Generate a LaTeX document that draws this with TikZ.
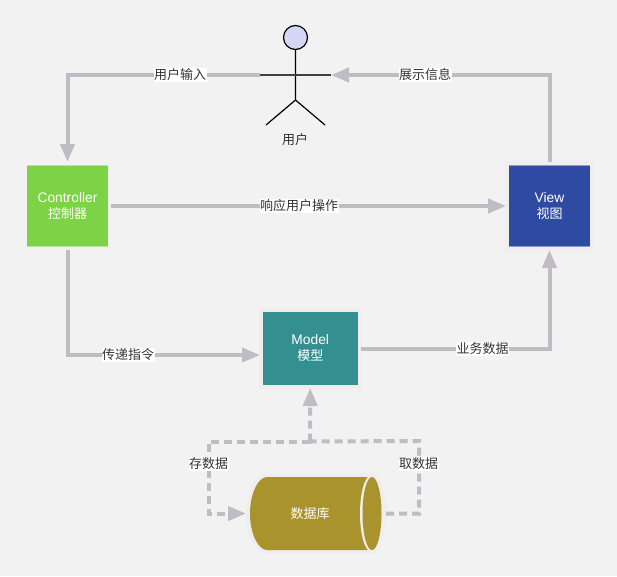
\documentclass[tikz,border=0pt]{standalone}
\usepackage{fontspec}
\setmainfont{Liberation Sans}
\newfontfamily\cjk{Noto Sans CJK SC}
\usetikzlibrary{arrows.meta}
\definecolor{bgc}{HTML}{F2F2F2}
\definecolor{halo}{HTML}{F0EDED}
\definecolor{flowc}{HTML}{BFBCC4}
\definecolor{txtc}{HTML}{333333}
\definecolor{ctrlc}{HTML}{7BD345}
\definecolor{viewc}{HTML}{2F4AA3}
\definecolor{modelc}{HTML}{349090}
\definecolor{dbc}{HTML}{A8932C}
\definecolor{headc}{HTML}{D4D7F7}
\newcommand{\boxcjk}[1]{{\fontsize{13}{16}\selectfont\cjk #1}}
\tikzset{
  x=1pt,y=-1pt,
  boxnode/.style={inner sep=0pt,outer sep=3pt,text=white,align=center,font=\fontsize{13.8}{16}\selectfont},
  flow/.style={draw=flowc,line width=4pt,line join=miter,-{Triangle[length=18pt,width=14pt]}},
  dflow/.style={flow,dash pattern=on 8pt off 5pt},
  dplain/.style={draw=flowc,line width=4pt,line join=miter,dash pattern=on 8pt off 5pt},
  lbl/.style={fill=white,inner xsep=0.5pt,inner ysep=1pt,text=txtc,font=\fontsize{13}{15}\selectfont\cjk},
  stick/.style={draw=black,line width=1.2pt},
  halobox/.style={draw=halo,line width=8pt,fill=halo},
  edgeline/.style={line width=1pt,opacity=.45,draw=white},
}
\begin{document}
\begin{tikzpicture}
\useasboundingbox[fill=bgc] (0,0) rectangle (617,576);
% halos and boxes
\fill[halobox] (509,165) rectangle (590,247);
\fill[halobox] (263,312) rectangle (357.5,385);
\node[boxnode,minimum width=81pt,minimum height=82pt,fill=ctrlc] (ctrl) at (67.5,206) {Controller\\\boxcjk{控制器}};
\node[boxnode,minimum width=81pt,minimum height=82pt,fill=viewc] (view) at (549.5,206) {View\\\boxcjk{视图}};
\node[boxnode,minimum width=94.5pt,minimum height=73pt,fill=modelc] (model) at (310.25,348.5) {Model\\\boxcjk{模型}};
\draw[edgeline] (27,165.5) -- (108,165.5) (27,246.5) -- (108,246.5);
\draw[edgeline] (509,165.5) -- (590,165.5) (509,246.5) -- (590,246.5);
% database
\fill[halo] (267,473) -- (372,473) .. controls (380,473) and (386,495) .. (386,513.5) .. controls (386,532) and (380,554) .. (372,554) -- (267,554) .. controls (256,554) and (246,535) .. (246,513.5) .. controls (246,492) and (256,473) .. (267,473) -- cycle;
\fill[dbc] (267,477) -- (372,477) -- (372,550) -- (267,550) .. controls (258,550) and (250,533) .. (250,513.5) .. controls (250,494) and (258,477) .. (267,477) -- cycle;
\draw[draw=halo,line width=3pt,fill=dbc] (372,513.5) ellipse [x radius=10.5,y radius=37];
\fill[dbc] (372,513.5) ellipse [x radius=9.5,y radius=36.5];
\node[inner sep=0pt,outer sep=0pt,minimum width=140pt,minimum height=81pt] (db) at (316,513.5) {};
\node[inner sep=0pt,text=white,font=\fontsize{13}{15}\selectfont\cjk] (dbtxt) at (310,514) {数据库};
% actor points
\coordinate (armL) at (260,75);
\coordinate (armR) at (331,75);
\coordinate (hip) at (295.5,100);
\coordinate (legL) at (266,125);
\coordinate (legR) at (325,125);
\coordinate (cornerTL) at (67.5,75);
\coordinate (cornerTR) at (549.5,75);
\coordinate (cornerBL) at (67.5,355);
\coordinate (cornerBR) at (549.5,348.5);
\coordinate (jct) at (310,441.5);
\coordinate (dL1) at (208.5,441.5);
\coordinate (dL2) at (208.5,513.5);
\coordinate (dR1) at (419,513.5);
\coordinate (dR2) at (419,441);
% connectors
\draw[flow] (armL) -- (cornerTL) -- (ctrl.north);
\draw[flow] (view.north) -- (cornerTR) -- (armR);
\draw[flow] (ctrl.east) -- (view.west);
\draw[flow] (ctrl.south) -- (cornerBL) -- ([yshift=-6.5pt]model.west);
\draw[flow] (model.east) -- (cornerBR) -- (view.south);
\draw[dflow] (jct) -- (dL1) -- (dL2) -- (db.west);
\draw[dplain] (db.east) -- (dR1) -- (dR2) -- (jct);
\draw[dflow] (jct) -- (model.south);
% actor
\node[circle,draw=black,line width=1.2pt,fill=headc,minimum size=24pt,inner sep=0pt] (head) at (295.5,37.5) {};
\draw[stick] (head.south) -- (hip) -- (legL);
\draw[stick] (hip) -- (legR);
\draw[draw=black!75,line width=1.4pt] (armL) -- (armR);
\node[inner sep=0pt,text=txtc,font=\fontsize{13}{15}\selectfont\cjk] (actorlbl) at (295,140) {用户};
% labels
\node[lbl] (l1) at (180,75) {用户输入};
\node[lbl] (l2) at (425,75) {展示信息};
\node[lbl] (l3) at (299,206) {响应用户操作};
\node[lbl] (l4) at (128,355) {传递指令};
\node[lbl] (l5) at (482.5,349) {业务数据};
\node[lbl] (l6) at (208.5,464) {存数据};
\node[lbl] (l7) at (418.5,464) {取数据};
\end{tikzpicture}
\end{document}
